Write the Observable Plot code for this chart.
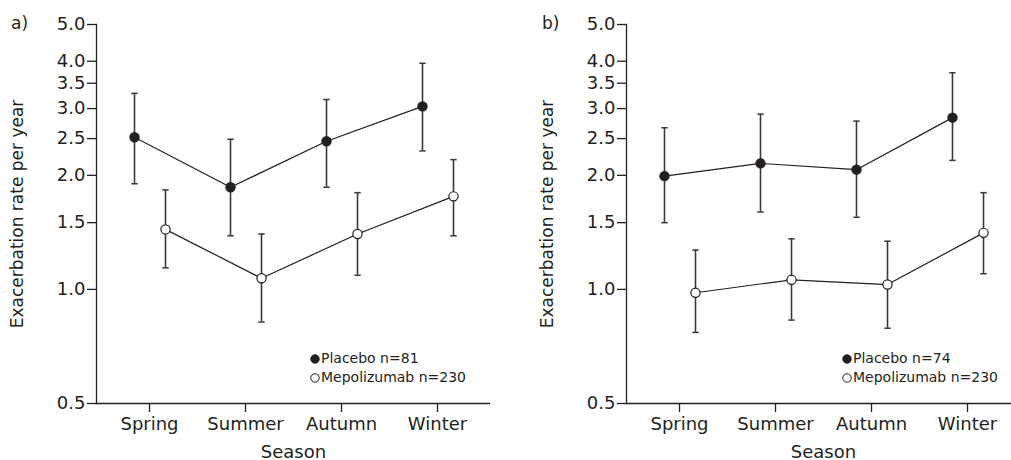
<!DOCTYPE html>
<html><head><meta charset="utf-8">
<script src="https://cdn.jsdelivr.net/npm/d3@7"></script>
<script src="https://cdn.jsdelivr.net/npm/@observablehq/plot@0.6"></script>
<style>
body{margin:0;background:#fff;font-family:"DejaVu Sans",sans-serif;color:#231f20}
#wrap{position:relative;width:1011px;height:460px;overflow:hidden}
.panel{position:absolute;top:0}
.tag{position:absolute;top:13px;font-size:17px}
.leg{position:absolute;font-size:14px;line-height:19px;white-space:nowrap}
.leg svg{vertical-align:-1px;margin-right:1px}
</style></head>
<body>
<div id="wrap"></div>
<script>
const seasons = ["Spring","Summer","Autumn","Winter"];
const yTicks = [0.5,1.0,1.5,2.0,2.5,3.0,3.5,4.0,5.0];

// Panel a
const placeboA   = [2.52,1.86,2.46,3.04];
const placeboALo = [1.90,1.385,1.86,2.32];
const placeboAHi = [3.29,2.49,3.17,3.95];
const mepoA      = [1.44,1.07,1.40,1.76];
const mepoALo    = [1.14,0.82,1.09,1.385];
const mepoAHi    = [1.83,1.40,1.80,2.20];
// Panel b
const placeboB   = [1.99,2.15,2.07,2.84];
const placeboBLo = [1.50,1.60,1.55,2.19];
const placeboBHi = [2.67,2.90,2.78,3.73];
const mepoB      = [0.98,1.06,1.03,1.41];
const mepoBLo    = [0.77,0.83,0.79,1.10];
const mepoBHi    = [1.27,1.36,1.34,1.80];

const legendA = ["Placebo n=81","Mepolizumab n=230"];
const legendB = ["Placebo n=74","Mepolizumab n=230"];

const ink = "#231f20";
const font = "'DejaVu Sans', sans-serif";
const capSymbol = {draw(ctx, size){const r=Math.sqrt(size/Math.PI);ctx.moveTo(-r,0);ctx.lineTo(r,0);}};

function rows(v, lo, hi){return seasons.map((s,i)=>({season:s, rate:v[i], lo:lo[i], hi:hi[i]}));}

function groupMarks(data, dx, fill){
  return [
    Plot.ruleX(data,{x:"season",y1:"lo",y2:"hi",dx,stroke:"#3a3a3a",strokeWidth:1.6}),
    Plot.dot(data,{x:"season",y:"lo",dx,symbol:capSymbol,r:3.2,stroke:"#3a3a3a",strokeWidth:1.5}),
    Plot.dot(data,{x:"season",y:"hi",dx,symbol:capSymbol,r:3.2,stroke:"#3a3a3a",strokeWidth:1.5}),
    Plot.line(data,{x:"season",y:"rate",dx,stroke:ink,strokeWidth:1.2}),
    Plot.dot(data,{x:"season",y:"rate",dx,r:4.6,fill,stroke:ink,strokeWidth:1.2})
  ];
}

function panel(pl, me, width, marginLeft){
  return Plot.plot({
    width, height:460, marginLeft, marginRight:15, marginTop:24, marginBottom:57,
    style:{fontFamily:font, fontSize:"17px", color:ink, background:"transparent"},
    x:{type:"point", domain:seasons, padding:0.54},
    y:{type:"log", domain:[0.5,5]},
    marks:[
      Plot.axisY(yTicks,{tickFormat:d=>d.toFixed(1), tickSize:9, tickPadding:2, strokeWidth:1.3, fontSize:18,
        label:null}),
      Plot.axisY({label:"Exacerbation rate per year", ticks:[], tickSize:0, fontSize:17,
        labelAnchor:"center", labelArrow:"none", labelOffset:86}),
      Plot.axisX({tickSize:9, tickPadding:5, strokeWidth:1.3, fontSize:18,
        label:"Season", labelAnchor:"center", labelArrow:"none", labelOffset:54}),
      Plot.frame({anchor:"left", stroke:ink, strokeWidth:1.3}),
      Plot.ruleY([0.5],{stroke:ink, strokeWidth:1.3}),
      ...groupMarks(pl,-15,ink),
      ...groupMarks(me,16,"#fff")
    ]
  });
}

const wrap = document.getElementById("wrap");
function place(node, left){node.classList.add("panel");node.style.left=left+"px";wrap.appendChild(node);}
place(panel(rows(placeboA,placeboALo,placeboAHi), rows(mepoA,mepoALo,mepoAHi), 505, 96), 0);
place(panel(rows(placeboB,placeboBLo,placeboBHi), rows(mepoB,mepoBLo,mepoBHi), 530, 121), 505);

function tag(t,left){const d=document.createElement("div");d.className="tag";d.textContent=t;d.style.left=left+"px";wrap.appendChild(d);}
tag("a)",11); tag("b)",542);

function legend(labels,left,top){
  const d=document.createElement("div");d.className="leg";d.style.left=left+"px";d.style.top=top+"px";
  d.innerHTML = `<div><svg width="10" height="10"><circle cx="5" cy="5" r="4.2" fill="${ink}" stroke="${ink}"/></svg>${labels[0]}</div>`+
                `<div><svg width="10" height="10"><circle cx="5" cy="5" r="4.2" fill="#fff" stroke="${ink}"/></svg>${labels[1]}</div>`;
  wrap.appendChild(d);
}
legend(legendA,310,349); legend(legendB,842,349);
</script>
</body></html>
